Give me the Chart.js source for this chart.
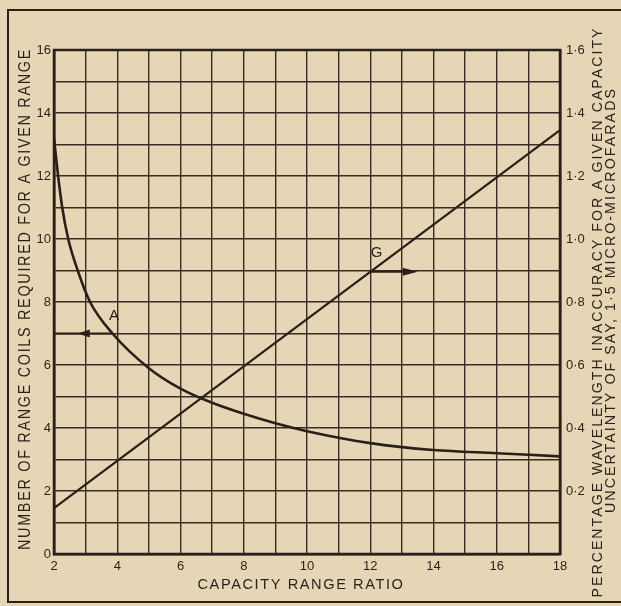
<!DOCTYPE html>
<html><head><meta charset="utf-8">
<script src="https://cdn.jsdelivr.net/npm/chart.js@4.4.1/dist/chart.umd.min.js"></script>
<style>html,body{margin:0;padding:0;background:#e6d6b6;}#wrap{width:621px;height:606px;position:relative;}</style>
</head><body><div id="wrap"><canvas id="c" width="621" height="606"></canvas></div>
<script>
// Curve A: number of range coils vs capacity range ratio (left axis)
const capacityRatioA = [2, 2.13, 2.26, 2.45, 2.75, 3.14, 3.85, 5, 6, 7, 8, 9, 10, 12, 14, 16, 18];
const coilsA = [13.2, 12, 11, 10, 9, 8, 7, 5.9, 5.25, 4.8, 4.45, 4.15, 3.9, 3.52, 3.3, 3.2, 3.1];
// Line G: percentage wavelength inaccuracy (right axis)
const capacityRatioG = [2, 18];
const inaccuracyG = [0.146, 1.346];
// Axis ranges / ticks
const xRange = [2, 18];
const leftRange = [0, 16];
const rightRange = [0, 1.6];
// Annotation arrows
const arrowA = {y: 7, from: 3.85, to: 2.0, tip: 2.75, label: 'A', lx: 3.9, ly: 7.55};
const arrowG = {y: 0.896, from: 12, tip: 13.5, label: 'G', lx: 12.2, ly: 0.956};

const ink = '#2a1f19';
const gridInk = '#3a2c24';
const FONT = '"Liberation Sans", Arial, sans-serif';

function drawFit(ctx, text, cx, cy, rot, size, length, spacing) {
  ctx.save();
  ctx.translate(cx, cy);
  ctx.rotate(rot);
  ctx.font = size + 'px ' + FONT;
  ctx.letterSpacing = (spacing || 0) + 'px';
  const w = ctx.measureText(text).width;
  ctx.scale(length / w, 1);
  ctx.textAlign = 'center';
  ctx.textBaseline = 'middle';
  ctx.fillStyle = ink;
  ctx.fillText(text, 0, 0);
  ctx.restore();
}

function arrowHead(ctx, tipX, y, dir, len, half) {
  ctx.beginPath();
  ctx.moveTo(tipX, y);
  ctx.lineTo(tipX - dir * len, y - half);
  ctx.lineTo(tipX - dir * len, y + half);
  ctx.closePath();
  ctx.fill();
}

const decor = {
  id: 'decor',
  beforeDraw(chart) {
    const ctx = chart.ctx;
    ctx.save();
    ctx.fillStyle = '#e6d6b6';
    ctx.fillRect(0, 0, chart.width, chart.height);
    ctx.restore();
  },
  afterDraw(chart) {
    const {ctx, chartArea: a, scales} = chart;
    const x = scales.x, yl = scales.y, yr = scales.y1;
    ctx.save();
    // outer frame
    ctx.strokeStyle = ink;
    ctx.lineWidth = 2;
    ctx.beginPath();
    ctx.moveTo(630, 10); ctx.lineTo(8, 10); ctx.lineTo(8, 602); ctx.lineTo(630, 602);
    ctx.stroke();
    // plot border
    ctx.lineWidth = 2.5;
    ctx.strokeRect(a.left, a.top, a.right - a.left, a.bottom - a.top);
    // arrow A
    ctx.fillStyle = ink;
    ctx.lineWidth = 2;
    let py = yl.getPixelForValue(arrowA.y);
    ctx.beginPath();
    ctx.moveTo(x.getPixelForValue(arrowA.from), py);
    ctx.lineTo(x.getPixelForValue(arrowA.to), py);
    ctx.stroke();
    arrowHead(ctx, x.getPixelForValue(arrowA.tip), py, -1, 12, 4);
    // arrow G
    py = yr.getPixelForValue(arrowG.y);
    ctx.beginPath();
    ctx.moveTo(x.getPixelForValue(arrowG.from), py);
    ctx.lineTo(x.getPixelForValue(arrowG.tip) - 8, py);
    ctx.stroke();
    arrowHead(ctx, x.getPixelForValue(arrowG.tip), py, 1, 15, 4);
    // labels
    ctx.font = '15px ' + FONT;
    ctx.textAlign = 'center';
    ctx.textBaseline = 'middle';
    ctx.fillText(arrowA.label, x.getPixelForValue(arrowA.lx), yl.getPixelForValue(arrowA.ly));
    ctx.fillText(arrowG.label, x.getPixelForValue(arrowG.lx), yr.getPixelForValue(arrowG.ly));
    ctx.restore();
    // titles
    drawFit(ctx, 'NUMBER OF RANGE COILS REQUIRED FOR A GIVEN RANGE', 25, 299, -Math.PI / 2, 17, 502, 2);
    drawFit(ctx, 'CAPACITY RANGE RATIO', 301, 585, 0, 14, 207, 1.5);
    drawFit(ctx, 'PERCENTAGE WAVELENGTH INACCURACY FOR A GIVEN CAPACITY', 598, 312, -Math.PI / 2, 14, 571, 2);
    drawFit(ctx, 'UNCERTAINTY OF SAY, 1\u00B75 MICRO-MICROFARADS', 611, 300, -Math.PI / 2, 14, 426, 2);
  }
};

new Chart(document.getElementById('c'), {
  type: 'line',
  data: {
    datasets: [
      {
        label: 'A',
        data: capacityRatioA.map((v, i) => ({x: v, y: coilsA[i]})),
        yAxisID: 'y',
        borderColor: ink,
        borderWidth: 2.6,
        pointRadius: 0,
        cubicInterpolationMode: 'monotone',
        fill: false
      },
      {
        label: 'G',
        data: capacityRatioG.map((v, i) => ({x: v, y: inaccuracyG[i]})),
        yAxisID: 'y1',
        borderColor: ink,
        borderWidth: 2.2,
        pointRadius: 0,
        fill: false
      }
    ]
  },
  options: {
    responsive: false,
    animation: false,
    events: [],
    layout: {padding: {top: 50, left: 0, right: 0, bottom: 0}},
    plugins: {legend: {display: false}, tooltip: {enabled: false}},
    scales: {
      x: {
        type: 'linear',
        min: xRange[0], max: xRange[1],
        afterFit(s) { s.height = 52; },
        ticks: {
          stepSize: 1, autoSkip: false, maxRotation: 0, padding: 5,
          color: ink, font: {size: 13, family: FONT},
          callback: v => (v % 2 === 0 ? String(v) : '')
        },
        grid: {color: gridInk, lineWidth: 1.4, drawTicks: false},
        border: {color: ink, width: 2.5}
      },
      y: {
        type: 'linear', position: 'left',
        min: leftRange[0], max: leftRange[1],
        afterFit(s) { s.width = 54; },
        ticks: {
          stepSize: 1, autoSkip: false, padding: 3,
          color: ink, font: {size: 13, family: FONT},
          callback: v => (v % 2 === 0 ? String(v) : '')
        },
        grid: {color: gridInk, lineWidth: 1.4, drawTicks: false},
        border: {color: ink, width: 2.5}
      },
      y1: {
        type: 'linear', position: 'right',
        min: rightRange[0], max: rightRange[1],
        afterFit(s) { s.width = 61; },
        ticks: {
          stepSize: 0.2, autoSkip: false, padding: 6,
          color: ink, font: {size: 13, family: FONT},
          callback: v => (Math.abs(v) < 1e-9 ? '' : v.toFixed(1).replace('.', '\u00B7'))
        },
        grid: {display: false, drawTicks: false},
        border: {color: ink, width: 2.5}
      }
    }
  },
  plugins: [decor]
});
</script>
</body></html>
